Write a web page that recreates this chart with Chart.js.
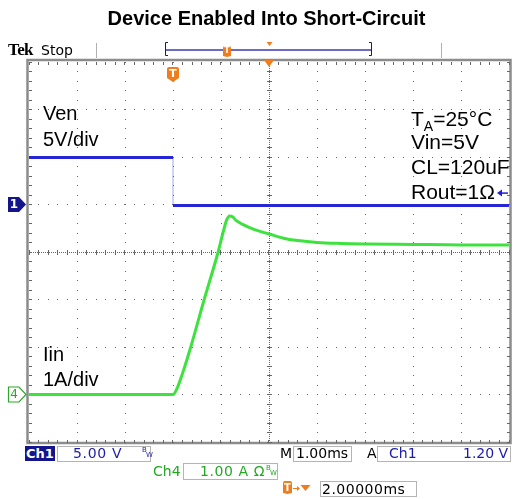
<!DOCTYPE html>
<html>
<head>
<meta charset="utf-8">
<script src="https://cdn.jsdelivr.net/npm/chart.js@4"></script>
<style>
body { margin: 0; background: #fff; }
#wrap { position: relative; width: 513px; height: 499px; overflow: hidden; font-family: "Liberation Sans", Arial, sans-serif; }
#wrap canvas { position: absolute; left: 0; top: 0; }
.t { position: absolute; white-space: nowrap; line-height: 1; }
.lbl { font-size: 20px; color: #000; }
.note { font-size: 21px; color: #000; }
.ui { font-family: "DejaVu Sans", sans-serif; font-size: 14px; }
.box { position: absolute; border: 1px solid #b4b4b4; box-sizing: border-box; background: #fff; }
.bw { position: absolute; font-family: "DejaVu Sans", sans-serif; font-size: 7px; line-height: 1; }
.tmark { position: absolute; color: #fff; font-weight: bold; text-align: center; line-height: 1; font-family: "DejaVu Sans", sans-serif; }
</style>
</head>
<body>
<div id="wrap">
  <canvas id="scope" width="513" height="499"></canvas>

  <div class="t" style="left:0;width:533px;top:8px;text-align:center;font-size:20px;font-weight:bold;">Device Enabled Into Short-Circuit</div>

  <div class="t" style="left:8px;top:41px;font-family:'Liberation Serif',serif;font-weight:bold;font-size:17px;letter-spacing:-0.6px;">Tek</div>
  <div class="t ui" style="left:41px;top:43px;">Stop</div>
  <div class="tmark" style="left:223px;top:47px;width:8px;font-size:8px;">T</div>

  <div class="t lbl" style="left:43px;top:103px;">Ven</div>
  <div class="t lbl" style="left:43px;top:129px;">5V/div</div>
  <div class="t lbl" style="left:43px;top:344px;">Iin</div>
  <div class="t lbl" style="left:43px;top:369px;">1A/div</div>

  <div class="t note" style="left:411px;top:108px;">T<span style="font-size:14px;position:relative;top:5px;">A</span>=25°C</div>
  <div class="t note" style="left:411px;top:131px;">Vin=5V</div>
  <div class="t note" style="left:411px;top:156px;">CL=120uF</div>
  <div class="t note" style="left:411px;top:181px;">Rout=1Ω</div>

  <div class="tmark" style="left:8px;top:198px;width:12px;font-size:12px;">1</div>
  <div class="tmark" style="left:8px;top:388px;width:12px;font-size:12px;color:#2aa82a;font-weight:normal;">4</div>
  <div class="tmark" style="left:167px;top:68px;width:12px;font-size:11px;">T</div>

  <div class="t ui" style="left:25px;top:446px;width:30px;height:15px;background:#14148c;color:#fff;font-weight:bold;font-size:13px;text-align:center;line-height:15px;">Ch1</div>
  <div class="box" style="left:57px;top:446px;width:94px;height:16px;"></div>
  <div class="t ui" style="left:73px;top:446px;color:#1c1ca8;letter-spacing:0.7px;">5.00 V</div>
  <div class="bw" style="left:142px;top:447px;color:#1c1ca8;">B</div>
  <div class="bw" style="left:146px;top:452px;color:#1c1ca8;">W</div>

  <div class="t ui" style="left:280px;top:446px;">M</div>
  <div class="box" style="left:293px;top:446px;width:59px;height:16px;"></div>
  <div class="t ui" style="left:296px;top:446px;">1.00ms</div>
  <div class="t ui" style="left:367px;top:446px;">A</div>
  <div class="box" style="left:377px;top:446px;width:134px;height:16px;"></div>
  <div class="t ui" style="left:389px;top:446px;color:#1c1ca8;">Ch1</div>
  <div class="t ui" style="left:463px;width:45px;top:446px;color:#1c1ca8;text-align:right;">1.20 V</div>

  <div class="t ui" style="left:153px;top:464px;color:#22a822;">Ch4</div>
  <div class="box" style="left:183px;top:463px;width:95px;height:17px;"></div>
  <div class="t ui" style="left:200px;top:464px;color:#22a822;letter-spacing:0.6px;">1.00 A Ω</div>
  <div class="bw" style="left:266px;top:465px;color:#22a822;">B</div>
  <div class="bw" style="left:270px;top:470px;color:#22a822;">W</div>

  <div class="tmark" style="left:283px;top:483px;width:9px;font-size:10px;">T</div>
  <div class="box" style="left:320px;top:481px;width:97px;height:16px;"></div>
  <div class="t ui" style="left:322px;top:482px;letter-spacing:0.5px;">2.00000ms</div>
</div>

<script>
// time in ms relative to the trigger
const xMin = -3, xMax = 7, xCenter = 2
const yMin = -4, yMax = 4
const triggerTime = 0

// channel 1 : Ven, 5 V/div, ground one div above centre
const ch1VoltsPerDiv = 5
const ch1Ground = 1
const trigLevel = 1.2
const venTime = [-3, 0, 0, 7]
const venVolts = [4.95, 4.95, -0.1, -0.1]

// channel 4 : Iin, 1 A/div, ground three divs below centre
const ch4AmpsPerDiv = 1
const ch4Ground = -3
const iinTime = [-3, 0, 0.08, 0.2, 0.37, 0.65, 0.94, 1.04, 1.12, 1.18, 1.24, 1.32, 1.45, 1.7, 2.0, 2.3, 2.6, 3.0, 3.5, 4.0, 5.0, 6.0, 7.0]
const iinAmps = [0, 0, 0.12, 0.45, 1.0, 2.0, 3.0, 3.4, 3.68, 3.76, 3.74, 3.66, 3.58, 3.47, 3.38, 3.29, 3.24, 3.2, 3.18, 3.17, 3.16, 3.15, 3.15]

const venPts = venTime.map((t, i) => ({ x: t, y: ch1Ground + venVolts[i] / ch1VoltsPerDiv }))
const iinPts = iinTime.map((t, i) => ({ x: t, y: ch4Ground + iinAmps[i] / ch4AmpsPerDiv }))

const orange = '#f07d1c'

function shield(ctx, x, top, w, h, tip) {
    ctx.beginPath()
    ctx.moveTo(x - w / 2, top + 2)
    ctx.quadraticCurveTo(x - w / 2, top, x - w / 2 + 2, top)
    ctx.lineTo(x + w / 2 - 2, top)
    ctx.quadraticCurveTo(x + w / 2, top, x + w / 2, top + 2)
    ctx.lineTo(x + w / 2, top + h)
    ctx.lineTo(x, top + h + tip)
    ctx.lineTo(x - w / 2, top + h)
    ctx.closePath()
    ctx.fill()
}

function tri(ctx, x, top, w, h) {
    ctx.beginPath()
    ctx.moveTo(x - w / 2, top)
    ctx.lineTo(x + w / 2, top)
    ctx.lineTo(x, top + h)
    ctx.closePath()
    ctx.fill()
}

const graticule = {
    id: 'graticule',
    beforeDraw(chart) {
        const { ctx, chartArea: a } = chart
        ctx.save()
        ctx.strokeStyle = '#8c8c8c'
        ctx.lineWidth = 2.5
        ctx.strokeRect(a.left - 1.5, a.top - 2, a.right - a.left + 3, a.bottom - a.top + 3)
        ctx.restore()
    },
    beforeDatasetsDraw(chart) {
        const { ctx, chartArea: a, scales } = chart
        const sx = scales.x, sy = scales.y
        const stepX = (sx.getPixelForValue(xMin + 1) - sx.getPixelForValue(xMin)) / 5
        const stepY = (sy.getPixelForValue(yMin) - sy.getPixelForValue(yMin + 1)) / 5
        const cx = sx.getPixelForValue(xCenter), cy = sy.getPixelForValue(0)
        const dot = (px, py, w = 1, h = 1) => ctx.fillRect(Math.round(px - w / 2), Math.round(py - h / 2), w, h)
        ctx.save()
        ctx.fillStyle = '#666'
        for (let t = xMin + 1; t < xMax; t++) {
            const px = sx.getPixelForValue(t)
            for (let py = a.top; py <= a.bottom + 0.5; py += stepY) dot(px, py)
        }
        for (let d = yMin + 1; d < yMax; d++) {
            const py = sy.getPixelForValue(d)
            for (let px = a.left; px <= a.right + 0.5; px += stepX) dot(px, py)
        }
        // centre axes
        for (let px = a.left; px <= a.right; px += 2) dot(px, cy)
        for (let py = a.top; py <= a.bottom; py += 2) dot(cx, py)
        for (let px = a.left; px <= a.right + 0.5; px += stepX) dot(px, cy, 1, 5)
        for (let py = a.top; py <= a.bottom + 0.5; py += stepY) dot(cx, py, 5, 1)
        // edge ticks
        for (let px = a.left; px <= a.right + 0.5; px += stepX) { dot(px, a.top + 1, 1, 3); dot(px, a.bottom - 1, 1, 3) }
        for (let py = a.top; py <= a.bottom + 0.5; py += stepY) { dot(a.left + 1, py, 3, 1); dot(a.right - 1, py, 3, 1) }
        ctx.restore()
    }
}

const markers = {
    id: 'markers',
    afterDatasetsDraw(chart) {
        const { ctx, chartArea: a, scales } = chart
        const sx = scales.x, sy = scales.y
        ctx.save()

        // channel ground markers
        const y1 = sy.getPixelForValue(ch1Ground)
        ctx.fillStyle = '#14148c'
        ctx.beginPath()
        ctx.moveTo(8, y1 - 7.5); ctx.lineTo(19, y1 - 7.5); ctx.lineTo(26, y1); ctx.lineTo(19, y1 + 7.5); ctx.lineTo(8, y1 + 7.5)
        ctx.closePath(); ctx.fill()

        const y4 = sy.getPixelForValue(ch4Ground)
        ctx.strokeStyle = '#2aa82a'
        ctx.lineWidth = 1.2
        ctx.beginPath()
        ctx.moveTo(8.5, y4 - 7.5); ctx.lineTo(19, y4 - 7.5); ctx.lineTo(26, y4); ctx.lineTo(19, y4 + 7.5); ctx.lineTo(8.5, y4 + 7.5)
        ctx.closePath(); ctx.stroke()

        // trigger level arrow
        const yt = sy.getPixelForValue(ch1Ground + trigLevel / ch1VoltsPerDiv)
        ctx.strokeStyle = '#2020d0'
        ctx.fillStyle = '#2020d0'
        ctx.lineWidth = 1.5
        ctx.beginPath(); ctx.moveTo(500, yt); ctx.lineTo(508, yt); ctx.stroke()
        ctx.beginPath(); ctx.moveTo(497, yt); ctx.lineTo(502, yt - 3.5); ctx.lineTo(502, yt + 3.5); ctx.closePath(); ctx.fill()

        // trigger point and horizontal position
        ctx.fillStyle = orange
        shield(ctx, sx.getPixelForValue(triggerTime), 67, 12, 11, 4)
        tri(ctx, sx.getPixelForValue(xCenter), a.top - 2, 10, 7)

        // record bar along the top
        ctx.strokeStyle = '#b0b0b0'
        ctx.lineWidth = 1
        ctx.beginPath(); ctx.moveTo(96.5, 43); ctx.lineTo(96.5, 58); ctx.moveTo(441.5, 43); ctx.lineTo(441.5, 58); ctx.stroke()
        ctx.strokeStyle = '#6c6cc4'
        ctx.lineWidth = 2
        ctx.beginPath(); ctx.moveTo(166, 50); ctx.lineTo(372, 50); ctx.stroke()
        ctx.strokeStyle = '#222'
        ctx.lineWidth = 1
        ctx.beginPath()
        ctx.moveTo(168, 42.5); ctx.lineTo(165.5, 42.5); ctx.lineTo(165.5, 55.5); ctx.lineTo(168, 55.5)
        ctx.moveTo(369, 42.5); ctx.lineTo(371.5, 42.5); ctx.lineTo(371.5, 55.5); ctx.lineTo(369, 55.5)
        ctx.stroke()
        ctx.fillStyle = orange
        shield(ctx, 227, 46, 8, 10, 1)
        tri(ctx, 269.5, 42, 6, 4)

        // trigger slope glyph
        ctx.strokeStyle = '#111'
        ctx.lineWidth = 1.5
        ctx.beginPath(); ctx.moveTo(431, 451); ctx.lineTo(436, 451); ctx.lineTo(436, 457); ctx.lineTo(440, 457); ctx.stroke()

        // trigger position readout icons
        ctx.fillStyle = orange
        shield(ctx, 287.5, 481, 9, 12, 1)
        ctx.strokeStyle = orange
        ctx.lineWidth = 1
        ctx.beginPath(); ctx.moveTo(293, 488.5); ctx.lineTo(298, 488.5); ctx.stroke()
        ctx.beginPath(); ctx.moveTo(300, 488.5); ctx.lineTo(297, 486); ctx.lineTo(297, 491); ctx.closePath(); ctx.fill()
        tri(ctx, 305.5, 485, 10, 6)

        ctx.restore()
    }
}

new Chart(document.getElementById('scope'), {
    type: 'line',
    data: {
        datasets: [{
            label: 'Ven',
            data: venPts,
            borderColor: '#2626d6',
            borderWidth: 3,
            pointRadius: 0,
            tension: 0,
            segment: {
                borderColor: c => c.p0.parsed.x === c.p1.parsed.x ? 'rgba(90,90,230,0.35)' : undefined,
                borderWidth: c => c.p0.parsed.x === c.p1.parsed.x ? 1.5 : undefined
            }
        }, {
            label: 'Iin',
            data: iinPts,
            borderColor: '#3ee23e',
            borderWidth: 3,
            pointRadius: 0,
            cubicInterpolationMode: 'monotone'
        }]
    },
    options: {
        responsive: false,
        animation: false,
        layout: { padding: { left: 29, right: 4, top: 62, bottom: 57 } },
        scales: {
            x: { type: 'linear', min: xMin, max: xMax, display: false },
            y: { type: 'linear', min: yMin, max: yMax, display: false }
        },
        plugins: {
            legend: { display: false },
            tooltip: { enabled: false }
        }
    },
    plugins: [graticule, markers]
})
</script>
</body>
</html>
